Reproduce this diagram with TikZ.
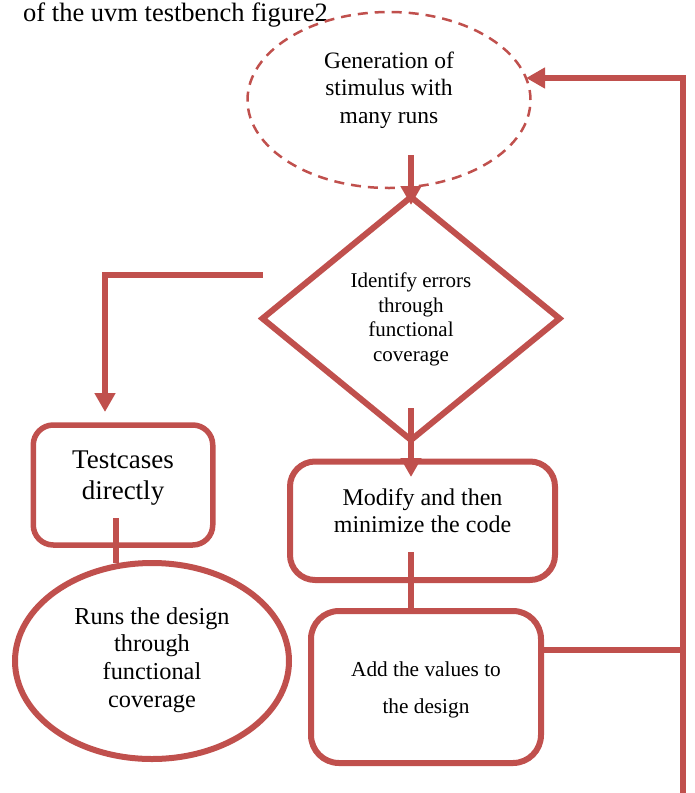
\documentclass[tikz,border=0pt]{standalone}
\usepackage{fontspec}
\setmainfont{Liberation Serif}
\usetikzlibrary{shapes.geometric,arrows.meta,calc}
\definecolor{uvmred}{HTML}{C0504D}

\tikzstyle{block} = [
        draw=uvmred, line width=6pt, rectangle, inner sep=0pt, outer sep=0pt
    ]
\tikzstyle{dashball} = [
        draw=uvmred, line width=2.5pt, dash pattern=on 10pt off 7pt,
        ellipse, inner sep=0pt, outer sep=0pt
    ]
\tikzstyle{decision} = [
        draw=uvmred, line width=6pt, diamond, inner sep=0pt, outer sep=0pt
    ]
\tikzstyle{bubble} = [
        draw=uvmred, line width=6pt, ellipse, inner sep=0pt, outer sep=0pt
    ]
\tikzstyle{wire} = [draw=uvmred, line width=6pt]
\tikzstyle{txt} = [align=center, inner sep=0pt]
\tikzstyle{tmp} = [coordinate]

\begin{document}
\begin{tikzpicture}[x=1pt, y=-1pt, >={Triangle[length=19pt, width=20pt]}]
        \useasboundingbox (0,0) rectangle (694,793);
        \node [anchor=base west, inner sep=0pt, font=\fontsize{26.5}{30}\selectfont]
            (title) at (23,21) {of the uvm testbench figure2};
        \node [dashball, minimum width=283pt, minimum height=176pt,
            label={[name=gentxt, txt, yshift=10pt, font=\fontsize{23.5}{27.5}\selectfont]
            center:Generation of\\stimulus with\\many runs}] (gen) at (389,100) {};
        \node [decision, minimum width=297pt, minimum height=243pt,
            label={[name=diamtxt, txt, yshift=-1pt, font=\fontsize{21}{24.5}\selectfont]
            center:Identify errors\\through\\functional\\coverage}] (diam) at (411,318.5) {};
        \node [block, rounded corners=20pt, line width=5.5pt,
            minimum width=179.5pt, minimum height=120pt,
            label={[name=testtxt, txt, yshift=7pt, font=\fontsize{27}{31}\selectfont]
            center:Testcases\\directly}] (test) at (123,485) {};
        \node [block, rounded corners=25pt, minimum width=265pt, minimum height=118.5pt,
            label={[name=modtxt, txt, yshift=10pt, font=\fontsize{24}{27}\selectfont]
            center:Modify and then\\minimize the code}] (mod) at (422.5,520.75) {};
        \node [block, rounded corners=28pt, minimum width=230pt, minimum height=152pt,
            label={[name=addtxt, txt, yshift=-3pt, font=\fontsize{21.3}{37}\selectfont]
            center:Add the values to\\the design}] (add) at (426,687) {};
        \node [bubble, minimum width=274pt, minimum height=196pt,
            label={[name=runstxt, txt, yshift=1pt, font=\fontsize{24.3}{27.8}\selectfont]
            center:Runs the design\\through\\functional\\coverage}] (runs) at (152,661) {};
        \node [tmp] (rtop) at (683,78) {};
        \node [tmp] (rmid) at (683,650) {};
        \node [tmp] (rbot) at (683,793) {};
        % main column
        \draw [wire, ->] ($(diam.north |- gen.south)+(0,-33)$) -- ($(diam.north)+(0,8)$);
        \draw [wire, ->] ($(diam.south)+(0,-32)$) -- ($(diam.south |- mod.north)+(0,15.5)$);
        \draw [wire] ($(diam.south |- mod.south)+(0,-28)$) -- (diam.south |- add.north);
        % left branch
        \draw [wire, ->] ([yshift=44pt]diam.west) -| ([shift={(-18pt,13pt)}]test.north);
        \draw [wire] ($(test.south)+(-7,-27)$) -- ($(runs.north)+(-36,0)$);
        % feedback loop
        \draw [wire] (add.east |- rmid) -- (rmid);
        \draw [wire, line width=6.5pt, ->] (rbot) -- (rtop) -- (gen.9 |- rtop);
\end{tikzpicture}
\end{document}
